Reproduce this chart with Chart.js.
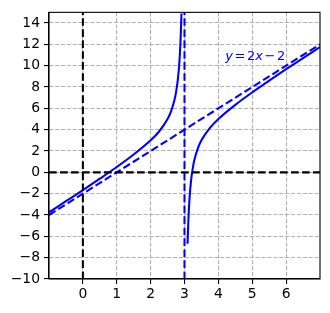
<!DOCTYPE html>
<html>
<head>
<meta charset="utf-8">
<script src="https://cdn.jsdelivr.net/npm/chart.js@4.4.1/dist/chart.umd.min.js"></script>
<style>
  html, body { margin: 0; padding: 0; background: #fff; }
  #wrap { width: 330px; height: 313px; }
</style>
</head>
<body>
<div id="wrap"><canvas id="chart" width="330" height="313"></canvas></div>
<script>
const X_TICKS = [0, 1, 2, 3, 4, 5, 6];
const Y_TICKS = [-10, -8, -6, -4, -2, 0, 2, 4, 6, 8, 10, 12, 14];
const X_RANGE = [-1, 7];
const Y_RANGE = [-10, 15];

// curve left of the pole at x = 3
const LEFT_X = [-1, -0.5, 0, 0.5, 1, 1.5, 2, 2.25, 2.5, 2.6, 2.7, 2.75, 2.8, 2.85, 2.88, 2.9, 2.91];
const LEFT_Y = [-3.75, -2.71, -1.67, -0.6, 0.5, 1.67, 3, 3.83, 5, 5.7, 6.73, 7.5, 8.6, 10.37, 12.09, 13.8, 14.9];
// curve right of the pole
const RIGHT_X = [3.09, 3.1, 3.12, 3.15, 3.2, 3.25, 3.3, 3.4, 3.5, 3.75, 4, 4.5, 5, 5.5, 6, 6.5, 7];
const RIGHT_Y = [-6.7, -5.8, -4.09, -2.37, -0.6, 0.5, 1.27, 2.3, 3, 4.17, 5, 6.33, 7.5, 8.6, 9.67, 10.71, 11.75];

// asymptotes and axes lines
const OBLIQUE_X = [-1, 7];
const OBLIQUE_Y = [-4, 12];
const POLE_X = 3;
const LABEL_POS = [4.2, 10.5];

const BLUE = "#0000ff";
const LW = 2.08;
const DASH = [7.7, 3.3];

function pairs(xs, ys) {
  return xs.map((x, i) => ({ x, y: ys[i] }));
}

function lineSet(data, color, dash) {
  return {
    data,
    borderColor: color,
    borderWidth: LW,
    borderDash: dash || [],
    borderCapStyle: "butt",
    pointRadius: 0,
    showLine: true,
    fill: false,
    tension: 0,
    cubicInterpolationMode: "monotone",
  };
}

const frame = {
  id: "frame",
  afterDatasetsDraw(chart) {
    const { ctx, chartArea: a, scales } = chart;
    const x = scales.x;
    const y = scales.y;

    // label y = 2x - 2 in math style
    ctx.save();
    ctx.fillStyle = BLUE;
    ctx.textBaseline = "alphabetic";
    let px = x.getPixelForValue(LABEL_POS[0]);
    const py = y.getPixelForValue(LABEL_POS[1]);
    const size = 13;
    const gap = 1.6;
    const parts = [
      ["y", true, gap], ["=", false, gap], ["2", false, 0], ["x", true, gap], ["\u2212", false, gap], ["2", false, 0],
    ];
    parts.forEach(([t, it, g]) => {
      ctx.font = `${it ? "oblique " : ""}${size}px "DejaVu Sans"`;
      ctx.fillText(t, px, py);
      px += ctx.measureText(t).width + g;
    });
    ctx.restore();

    ctx.save();
    ctx.strokeStyle = "#000";
    ctx.lineWidth = 1.1;
    ctx.strokeRect(a.left, a.top, a.right - a.left, a.bottom - a.top);
    ctx.restore();
  },
};

const tickFont = { family: "DejaVu Sans", size: 13.9 };

new Chart(document.getElementById("chart"), {
  type: "scatter",
  data: {
    datasets: [
      lineSet(pairs(X_RANGE, [0, 0]), "#000", DASH),
      lineSet(pairs([0, 0], Y_RANGE), "#000", DASH),
      lineSet(pairs(OBLIQUE_X, OBLIQUE_Y), BLUE, DASH),
      lineSet(pairs([POLE_X, POLE_X], Y_RANGE), BLUE, DASH),
      lineSet(pairs(LEFT_X, LEFT_Y), BLUE),
      lineSet(pairs(RIGHT_X, RIGHT_Y), BLUE),
    ],
  },
  options: {
    responsive: false,
    animation: false,
    events: [],
    layout: { padding: { top: 10, right: 10, left: 0, bottom: 0 } },
    plugins: { legend: { display: false }, tooltip: { enabled: false } },
    scales: {
      x: {
        type: "linear",
        min: X_RANGE[0],
        max: X_RANGE[1],
        afterBuildTicks: (s) => { s.ticks = X_TICKS.map((v) => ({ value: v })); },
        afterFit: (s) => { s.height = 34; },
        ticks: { color: "#000", font: tickFont, padding: 2, maxRotation: 0, autoSkip: false },
        grid: { color: "#b0b0b0", lineWidth: 1.1, tickColor: "#000", tickLength: 5, tickWidth: 1.1 },
        border: { color: "#000", width: 1.1, dash: [4.1, 1.8] },
      },
      y: {
        type: "linear",
        min: Y_RANGE[0],
        max: Y_RANGE[1],
        afterBuildTicks: (s) => { s.ticks = Y_TICKS.map((v) => ({ value: v })); },
        afterFit: (s) => { s.width = 49; },
        ticks: {
          color: "#000",
          font: tickFont,
          padding: 4,
          autoSkip: false,
          callback: (v) => String(v).replace("-", "\u2212"),
        },
        grid: { color: "#b0b0b0", lineWidth: 1.1, tickColor: "#000", tickLength: 5, tickWidth: 1.1 },
        border: { color: "#000", width: 1.1, dash: [4.1, 1.8] },
      },
    },
  },
  plugins: [frame],
});
</script>
</body>
</html>
